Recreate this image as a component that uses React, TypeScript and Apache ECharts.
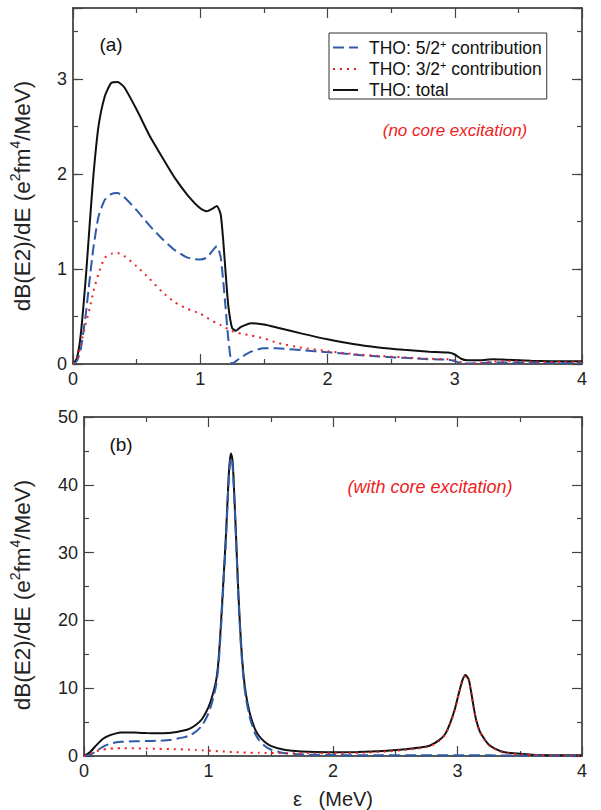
import React, { useEffect, useRef } from 'react';
import * as echarts from 'echarts';

const FONT = '"Liberation Sans", Arial, Helvetica, sans-serif';
const AXC = '#222';
const TKC = '#444';
const BLUE = '#2f5aa8';
const RED = '#ee2222';

const NAME_52 = 'THO: 5/2+ contribution';
const NAME_32 = 'THO: 3/2+ contribution';
const NAME_TOT = 'THO: total';

// Panel (a): no core excitation
const xa = [0, 0.03, 0.06, 0.1, 0.13, 0.16, 0.2, 0.25, 0.3, 0.35, 0.4, 0.5, 0.6, 0.7, 0.8, 0.9,
  1.0, 1.05, 1.1, 1.13, 1.16, 1.18, 1.2, 1.22, 1.25, 1.28, 1.32, 1.4, 1.5, 1.6, 1.8, 2.0,
  2.2, 2.4, 2.6, 2.8, 2.95, 3.0, 3.05, 3.1, 3.2, 3.3, 3.4, 3.6, 3.8, 4.0];
const totalA = [0, 0.06, 0.3, 0.9, 1.45, 1.98, 2.5, 2.82, 2.96, 2.97, 2.92, 2.68, 2.41, 2.18, 1.96, 1.78,
  1.64, 1.61, 1.64, 1.665, 1.58, 1.31, 0.95, 0.62, 0.38, 0.35, 0.39, 0.43, 0.415, 0.385, 0.32, 0.26,
  0.21, 0.175, 0.15, 0.13, 0.12, 0.1, 0.055, 0.04, 0.04, 0.05, 0.045, 0.035, 0.03, 0.03];
const c52A = [0, 0.03, 0.15, 0.52, 0.88, 1.22, 1.55, 1.73, 1.79, 1.8, 1.76, 1.62, 1.46, 1.32, 1.2, 1.12,
  1.1, 1.12, 1.2, 1.24, 1.13, 0.88, 0.58, 0.27, 0.0, 0.03, 0.07, 0.13, 0.165, 0.165, 0.145, 0.125,
  0.1, 0.08, 0.065, 0.05, 0.045, 0.03, 0.01, 0.005, 0.01, 0.015, 0.015, 0.015, 0.01, 0.01];
const c32A = [0, 0.04, 0.2, 0.42, 0.58, 0.76, 0.95, 1.12, 1.16, 1.17, 1.14, 1.03, 0.9, 0.76, 0.65, 0.58,
  0.53, 0.49, 0.45, 0.43, 0.41, 0.4, 0.38, 0.37, 0.35, 0.33, 0.32, 0.3, 0.27, 0.225, 0.17, 0.135,
  0.105, 0.085, 0.07, 0.055, 0.05, 0.04, 0.02, 0.0, 0.01, 0.025, 0.03, 0.025, 0.02, 0.02];

// Panel (b): with core excitation
const xb = [0, 0.05, 0.1, 0.15, 0.2, 0.25, 0.3, 0.4, 0.5, 0.6,
  0.7, 0.8, 0.85, 0.9, 0.95, 1.0, 1.03, 1.06, 1.08, 1.1,
  1.12, 1.14, 1.16, 1.17, 1.18, 1.19, 1.2, 1.22, 1.24, 1.26,
  1.28, 1.3, 1.33, 1.37, 1.4, 1.45, 1.5, 1.6, 1.7, 1.8,
  2.0, 2.2, 2.4, 2.6, 2.7, 2.78, 2.85, 2.9, 2.94, 2.98,
  3.01, 3.04, 3.064, 3.09, 3.11, 3.13, 3.15, 3.18, 3.22, 3.25,
  3.3, 3.37, 3.45, 3.6, 3.8, 4.0];
const totalB = [0, 0.6, 1.6, 2.5, 3.0, 3.3, 3.45, 3.45, 3.38, 3.36,
  3.42, 3.75, 4.05, 4.6, 5.5, 7.2, 8.8, 11.0, 14.0, 19.5,
  26, 32.5, 40.5, 43.3, 44.6, 44.0, 41.5, 33, 24, 17,
  12.2, 9.2, 6.4, 4.1, 3.1, 2.1, 1.5, 0.95, 0.72, 0.62,
  0.55, 0.6, 0.75, 1.05, 1.25, 1.55, 2.3, 3.2, 4.8, 7.0,
  9.2, 11.2, 11.95, 11.3, 9.4, 7.2, 5.3, 3.6, 2.4, 1.7,
  1.1, 0.6, 0.4, 0.2, 0.12, 0.1];
const c52B = [0, 0.2, 0.75, 1.35, 1.75, 1.98, 2.1, 2.17, 2.2, 2.25,
  2.4, 2.75, 3.05, 3.6, 4.55, 6.3, 8.0, 10.3, 13.3, 18.8,
  25.3, 31.9, 39.9, 42.7, 44.0, 43.4, 40.9, 32.4, 23.4, 16.4,
  11.6, 8.6, 5.8, 3.5, 2.5, 1.5, 0.95, 0.45, 0.28, 0.2,
  0.14, 0.12, 0.11, 0.1, 0.1, 0.1, 0.1, 0.1, 0.1, 0.1,
  0.1, 0.1, 0.1, 0.1, 0.1, 0.1, 0.1, 0.1, 0.1, 0.1,
  0.09, 0.09, 0.08, 0.07, 0.06, 0.05];
const c32B = [0, 0.3, 0.7, 0.95, 1.08, 1.13, 1.15, 1.13, 1.1, 1.06,
  1.02, 0.97, 0.94, 0.9, 0.86, 0.8, 0.77, 0.73, 0.7, 0.68,
  0.66, 0.64, 0.62, 0.61, 0.6, 0.6, 0.59, 0.57, 0.55, 0.54,
  0.53, 0.52, 0.5, 0.48, 0.47, 0.45, 0.44, 0.42, 0.41, 0.4,
  0.4, 0.46, 0.62, 0.93, 1.15, 1.45, 2.2, 3.1, 4.7, 6.9,
  9.1, 11.1, 11.85, 11.2, 9.3, 7.1, 5.2, 3.5, 2.3, 1.6,
  1.0, 0.5, 0.32, 0.15, 0.08, 0.06];

const xTicksMajor = 1;
const yAMax = 3.75;
const yBMax = 50;

const pairs = (xs: number[], ys: number[]) => xs.map((x, i) => [x, ys[i]]);

const labelStyle = { fontSize: 18, color: '#222', fontFamily: FONT };

function xAxis(grid: number, pos: string, labels: boolean, name?: string) {
  return {
    type: 'value', gridIndex: grid, position: pos, min: 0, max: 4, interval: xTicksMajor,
    name: name || '', nameLocation: 'middle', nameGap: 33,
    nameTextStyle: { fontSize: 20, color: '#222', fontFamily: FONT },
    axisLine: { show: true, onZero: false, lineStyle: { color: AXC, width: 1.5 } },
    axisTick: { show: true, inside: true, length: 10, lineStyle: { color: TKC, width: 1.2 } },
    minorTick: { show: true, splitNumber: 2, length: 5, lineStyle: { color: TKC, width: 1.2 } },
    axisLabel: { show: labels, margin: 6, ...labelStyle },
    splitLine: { show: false },
  };
}

function yAxis(grid: number, pos: string, max: number, interval: number, tickLen: number,
  opts: { labels?: boolean; line?: boolean; minor?: boolean }) {
  return {
    type: 'value', gridIndex: grid, position: pos, min: 0, max, interval,
    axisLine: { show: !!opts.line, onZero: false, lineStyle: { color: AXC, width: 1.5 } },
    axisTick: { show: true, inside: true, length: tickLen, lineStyle: { color: TKC, width: 1.2 } },
    minorTick: { show: !!opts.minor, splitNumber: 2, length: 5, lineStyle: { color: TKC, width: 1.2 } },
    axisLabel: {
      show: !!opts.labels, margin: 6, ...labelStyle,
      formatter: (v: number) => (Math.abs(v - Math.round(v)) < 1e-9 ? String(Math.round(v)) : ''),
    },
    splitLine: { show: false },
  };
}

const yNameText = '{n|dB(E2)/dE (e}{s|2}{n|fm}{s|4}{n|/MeV)}';
const yNameRich = {
  n: { fontSize: 22.5, fontFamily: FONT, fill: '#222', color: '#222', lineHeight: 28 },
  s: { fontSize: 14, fontFamily: FONT, fill: '#222', color: '#222', lineHeight: 15, verticalAlign: 'top' },
};

const legendRich = {
  t: { fontSize: 17.5, fontFamily: FONT, color: '#111', lineHeight: 19 },
  s: { fontSize: 11, fontFamily: FONT, color: '#111', lineHeight: 11, verticalAlign: 'top' },
};
const legendFmt = (n: string) => {
  if (n === NAME_52) return '{t|THO: 5/2}{s|+}{t| contribution}';
  if (n === NAME_32) return '{t|THO: 3/2}{s|+}{t| contribution}';
  return '{t|THO: total}';
};

function lineSeries(name: string, xi: number, yi: number, data: number[][], color: string,
  type: any, width: number, z: number) {
  return {
    type: 'line', name, xAxisIndex: xi, yAxisIndex: yi, data, showSymbol: false, symbol: 'none',
    smooth: 0.2, z, clip: true,
    lineStyle: { color, width, type, cap: 'butt' },
    itemStyle: { color },
  };
}

const option: any = {
  animation: false,
  backgroundColor: '#fff',
  grid: [
    { left: 73, top: 8, right: 19, height: 356 },
    { left: 84, top: 417, right: 19, height: 350 },
  ],
  xAxis: [
    xAxis(0, 'bottom', true),
    xAxis(0, 'top', false),
    xAxis(1, 'bottom', true, 'ε   (MeV)'),
    xAxis(1, 'top', false),
  ],
  yAxis: [
    yAxis(0, 'left', yAMax, 0.5, 5, { labels: true, line: true }),
    yAxis(0, 'left', yAMax, 1, 10, {}),
    yAxis(0, 'right', yAMax, 0.5, 5, { line: true }),
    yAxis(0, 'right', yAMax, 1, 10, {}),
    yAxis(1, 'left', yBMax, 10, 10, { labels: true, line: true, minor: true }),
    yAxis(1, 'right', yBMax, 10, 10, { line: true, minor: true }),
  ],
  legend: {
    show: true, orient: 'vertical', left: 329, top: 33,
    data: [NAME_52, NAME_32, NAME_TOT],
    itemWidth: 25, itemHeight: 14, itemGap: 3,
    padding: [5, 5, 0, 3],
    borderColor: '#333', borderWidth: 1, borderRadius: 0,
    selectedMode: false,
    itemStyle: { opacity: 0 },
    formatter: legendFmt,
    textStyle: { fontSize: 17.5, fontFamily: FONT, color: '#111', padding: [0, 0, 0, 6], rich: legendRich },
  },
  graphic: [
    { type: 'text', x: 22, y: 196, rotation: Math.PI / 2, style: { text: yNameText, rich: yNameRich, fontSize: 22.5, fontFamily: FONT, fill: '#222', align: 'center', verticalAlign: 'middle' } },
    { type: 'text', x: 22, y: 595, rotation: Math.PI / 2, style: { text: yNameText, rich: yNameRich, fontSize: 22.5, fontFamily: FONT, fill: '#222', align: 'center', verticalAlign: 'middle' } },
    { type: 'text', x: 111, y: 44, style: { text: '(a)', fontSize: 19, fontFamily: FONT, fill: '#111', align: 'center', verticalAlign: 'middle' } },
    { type: 'text', x: 455, y: 130, style: { text: '(no core excitation)', fontSize: 17, fontStyle: 'italic', fontFamily: FONT, fill: RED, align: 'center', verticalAlign: 'middle' } },
    { type: 'text', x: 121, y: 444, style: { text: '(b)', fontSize: 19, fontFamily: FONT, fill: '#111', align: 'center', verticalAlign: 'middle' } },
    { type: 'text', x: 430, y: 487, style: { text: '(with core excitation)', fontSize: 18, fontStyle: 'italic', fontFamily: FONT, fill: RED, align: 'center', verticalAlign: 'middle' } },
  ],
  series: [
    lineSeries(NAME_TOT, 0, 0, pairs(xa, totalA), '#111', 'solid', 2, 3),
    lineSeries(NAME_52, 0, 0, pairs(xa, c52A), BLUE, [11, 5], 2, 4),
    lineSeries(NAME_32, 0, 0, pairs(xa, c32A), RED, [2, 5], 2, 5),
    lineSeries(NAME_TOT, 2, 4, pairs(xb, totalB), '#111', 'solid', 2, 3),
    lineSeries(NAME_52, 2, 4, pairs(xb, c52B), BLUE, [11, 5], 2, 4),
    lineSeries(NAME_32, 2, 4, pairs(xb, c32B), RED, [2, 5], 2, 5),
  ],
};

export default function App() {
  const ref = useRef<HTMLDivElement>(null);
  useEffect(() => {
    const chart = echarts.init(ref.current as HTMLDivElement, null, { renderer: 'svg' });
    chart.setOption(option);
    return () => chart.dispose();
  }, []);
  return <div ref={ref} style={{ position: 'absolute', left: 0, top: 0, width: 601, height: 810 }} />;
}
